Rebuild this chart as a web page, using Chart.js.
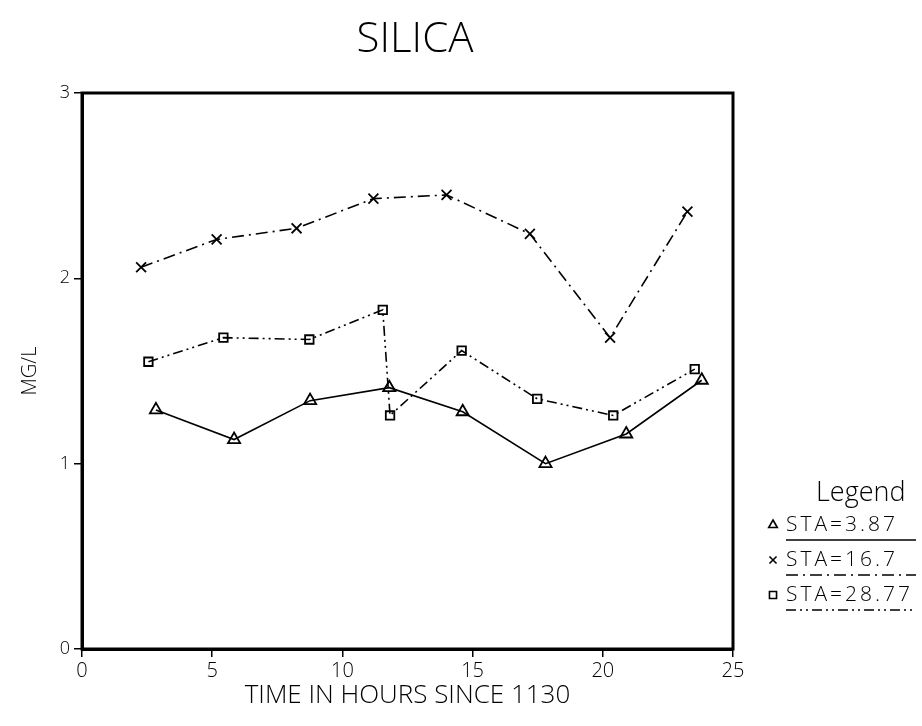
<!DOCTYPE html>
<html>
<head>
<meta charset="utf-8">
<script src="https://cdn.jsdelivr.net/npm/chart.js@4"></script>
<style>
  html, body { margin: 0; padding: 0; background: #fff; }
  #wrap { width: 922px; height: 726px; }
</style>
</head>
<body>
<div id="wrap"><canvas id="chart" width="922" height="726"></canvas></div>
<script>
// hours since 1130, silica in mg/L
const triHours = [2.84, 5.84, 8.76, 11.8, 14.62, 17.8, 20.9, 23.8]
const triSilica = [1.29, 1.13, 1.34, 1.41, 1.28, 1.0, 1.16, 1.45]

const crossHours = [2.27, 5.17, 8.24, 11.19, 14.0, 17.2, 20.28, 23.25]
const crossSilica = [2.06, 2.21, 2.27, 2.43, 2.45, 2.24, 1.68, 2.36]

const sqHours = [2.55, 5.43, 8.73, 11.55, 11.83, 14.58, 17.48, 20.4, 23.53]
const sqSilica = [1.55, 1.68, 1.67, 1.83, 1.26, 1.61, 1.35, 1.26, 1.51]

const seriesNames = ['STA=3.87', 'STA=16.7', 'STA=28.77']
const xTicks = [0, 5, 10, 15, 20, 25]
const yTicks = [0, 1, 2, 3]

const FONT = '"Open Sans", "DejaVu Sans", sans-serif'

function pts(xs, ys) {
  return xs.map((x, i) => ({ x: x, y: ys[i] }))
}

const dashes = [[], [12, 5, 2, 5], [10, 4, 2, 4, 2, 4]]
const markers = ['triangle', 'crossRot', 'rect']

const datasets = [
  pts(triHours, triSilica),
  pts(crossHours, crossSilica),
  pts(sqHours, sqSilica)
].map((d, i) => ({
  label: seriesNames[i],
  data: d,
  borderColor: '#000',
  backgroundColor: 'rgba(0,0,0,0)',
  borderWidth: 1.6,
  borderDash: dashes[i],
  pointStyle: markers[i],
  pointRadius: i == 2 ? 6 : 7,
  pointBorderWidth: 1.8,
  pointBorderColor: '#000',
  pointBackgroundColor: 'rgba(0,0,0,0)',
  tension: 0
}))

// frame, title and the hand-drawn style legend
const extras = {
  id: 'extras',
  afterDraw(chart) {
    const ctx = chart.ctx
    const a = chart.chartArea
    ctx.save()
    ctx.strokeStyle = '#000'
    ctx.lineWidth = 3
    ctx.setLineDash([])
    ctx.strokeRect(a.left, a.top, a.right - a.left, a.bottom - a.top)

    ctx.fillStyle = '#000'
    ctx.textAlign = 'center'
    ctx.textBaseline = 'middle'
    ctx.font = '300 42px ' + FONT
    ctx.fillText('SILICA', 415, 40)

    ctx.font = '300 27px ' + FONT
    ctx.textAlign = 'left'
    ctx.fillText('Legend', 816, 493)

    ctx.font = '300 21px ' + FONT
    ctx.letterSpacing = '3px'
    datasets.forEach((ds, i) => {
      const y = 525 + i * 35
      ctx.setLineDash([])
      ctx.lineWidth = 1.6
      ctx.fillStyle = 'rgba(0,0,0,0)'
      Chart.helpers.drawPoint(ctx, { pointStyle: ds.pointStyle, radius: 5, borderWidth: 1.6 }, 773, y)
      ctx.fillStyle = '#000'
      ctx.fillText(ds.label, 786, y)
      ctx.beginPath()
      ctx.setLineDash(ds.borderDash)
      ctx.moveTo(786, y + 15)
      ctx.lineTo(916, y + 15)
      ctx.stroke()
    })
    ctx.restore()
  }
}

new Chart(document.getElementById('chart'), {
  type: 'line',
  data: { datasets: datasets },
  options: {
    responsive: false,
    animation: false,
    layout: { padding: { top: 93, right: 189, left: 0, bottom: 0 } },
    plugins: {
      legend: { display: false },
      tooltip: { enabled: false }
    },
    scales: {
      x: {
        type: 'linear',
        min: 0,
        max: 25,
        afterFit: s => { s.height = 77 },
        afterBuildTicks: s => { s.ticks = xTicks.map(v => ({ value: v })) },
        grid: { drawOnChartArea: false, drawTicks: true, tickLength: 8, color: '#000', lineWidth: 1.5 },
        border: { display: true, color: '#000', width: 3 },
        ticks: { color: '#000', padding: 2, font: { family: FONT, size: 20, weight: '300' } },
        title: {
          display: true,
          text: 'TIME IN HOURS SINCE 1130',
          color: '#000',
          padding: { bottom: 15 },
          font: { family: FONT, size: 26, weight: '300' }
        }
      },
      y: {
        type: 'linear',
        min: 0,
        max: 3,
        afterFit: s => { s.width = 82 },
        afterBuildTicks: s => { s.ticks = yTicks.map(v => ({ value: v })) },
        grid: { drawOnChartArea: false, drawTicks: true, tickLength: 8, color: '#000', lineWidth: 1.5 },
        border: { display: true, color: '#000', width: 3 },
        ticks: { color: '#000', padding: 4, font: { family: FONT, size: 18, weight: '300' } },
        title: {
          display: true,
          text: 'MG/L',
          color: '#000',
          padding: { top: 18 },
          font: { family: FONT, size: 20, weight: '300' }
        }
      }
    }
  },
  plugins: [extras]
})
</script>
</body>
</html>
